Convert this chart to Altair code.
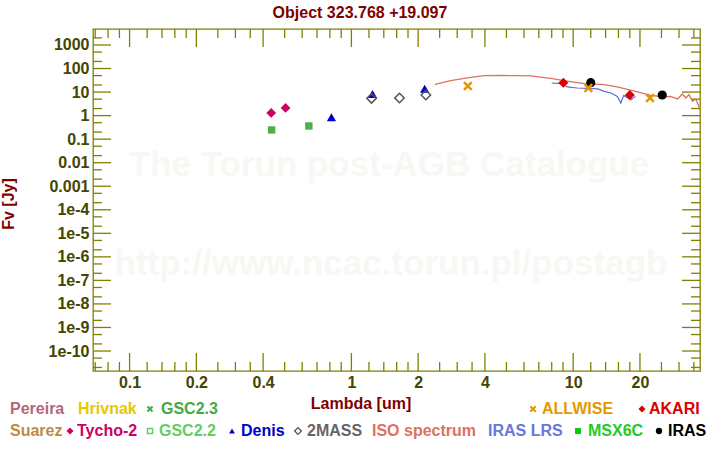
import altair as alt
import pandas as pd

# ---------------- data ----------------
tycho_wl = [0.435, 0.505]
tycho_fl = [1.30, 2.11]
gsc22_wl = [0.437, 0.643]
gsc22_fl = [0.246, 0.363]
denis_wl = [0.813, 1.245, 2.14]
denis_fl = [0.843, 8.3, 13.9]
mass2_wl = [1.233, 1.648, 2.167]
mass2_fl = [5.4, 5.6, 7.5]
allwise_wl = [3.35, 11.7, 22.2]
allwise_fl = [18.2, 14.9, 5.6]
akari_wl = [9.03, 18.0]
akari_fl = [25.1, 7.5]
iras_wl = [12.0, 25.2]
iras_fl = [25.1, 7.5]
iso_wl = [2.38, 2.80, 3.33, 3.96, 4.71, 5.60, 6.43, 7.92, 9.09, 11.2, 13.8, 15.8,
          19.5, 22.4, 25.7, 27.5, 29.5, 31.1, 32.2, 33.3, 34.5, 35.7, 36.6, 37.3]
iso_fl = [21.2, 30.5, 39.7, 49.7, 50.7, 49.7, 48.3, 38.2, 30.5, 22.7, 20.6, 16.5,
          10.1, 7.24, 6.19, 6.57, 5.09, 8.30, 5.62, 7.76, 4.03, 5.09, 2.92, 1.79]
lrs_wl = [8.00, 8.78, 9.42, 10.4, 11.6, 12.9, 13.8, 14.8, 15.8, 16.4, 16.9, 18.2, 19.1]
lrs_fl = [24.3, 22.7, 16.5, 14.9, 14.4, 13.6, 10.7, 9.16, 6.57, 3.44, 7.24, 4.75, 6.57]

x_major = [0.1, 0.2, 0.4, 1, 2, 4, 10, 20]
x_minor = [0.07, 0.08, 0.09, 0.12, 0.14, 0.16, 0.18, 0.25, 0.3, 0.35, 0.5, 0.6, 0.7,
           0.8, 0.9, 1.2, 1.4, 1.6, 1.8, 2.5, 3, 3.5, 5, 6, 7, 8, 9, 12, 14, 16, 18,
           25, 30, 35]
y_major = [1e-10, 1e-9, 1e-8, 1e-7, 1e-6, 1e-5, 1e-4, 1e-3, 1e-2, 0.1, 1, 10, 100, 1000]
y_minor = [2e-11, 5e-11, 2e-10, 5e-10, 2e-9, 5e-9, 2e-8, 5e-8, 2e-7, 5e-7, 2e-6, 5e-6,
           2e-5, 5e-5, 2e-4, 5e-4, 2e-3, 5e-3, 0.02, 0.05, 0.2, 0.5, 2, 5, 20, 50,
           200, 500, 2000]

title_text = "Object 323.768 +19.097"
x_title = "Lambda [um]"
y_title = "Fv [Jy]"
wm1 = "The Torun post-AGB Catalogue"
wm2 = "http://www.ncac.torun.pl/postagb"

# ---------------- layout ----------------
W, H = 607, 342
FONT = "Liberation Sans"
OLIVE = "#808000"
LABEL = "#454500"
DARKRED = "#800000"
WATERMARK = "#f8f7f3"

xscale = alt.Scale(type="log", domain=[0.0684, 37.3], nice=False)
yscale = alt.Scale(type="log", domain=[1.415e-11, 4780], nice=False)

xaxis = alt.Axis(values=x_major, format="~g", ticks=False, domain=False, grid=False,
                 title=None, labelFont=FONT, labelFontSize=16, labelFontWeight="bold",
                 labelColor=LABEL, labelPadding=3, labelOverlap=False, labelFlush=False)
yaxis = alt.Axis(values=y_major, ticks=False, domain=False, grid=False, title=None,
                 labelFont=FONT, labelFontSize=16, labelFontWeight="bold",
                 labelColor=LABEL, labelPadding=4, labelOverlap=False,
                 labelExpr="datum.value >= 0.0005 ? format(datum.value, '~g') : '1e-' + (-round(log(datum.value)/LN10))")


def X(field="wl"):
    return alt.X(f"{field}:Q", scale=xscale, axis=xaxis)


def Y(field="fl"):
    return alt.Y(f"{field}:Q", scale=yscale, axis=yaxis)


def text(txt, x, y, color, size=16, align="left", angle=0, baseline="middle"):
    return alt.Chart(pd.DataFrame({"t": [txt]})).mark_text(
        text=txt, align=align, baseline=baseline, font=FONT, fontSize=size,
        fontWeight="bold", color=color, angle=angle
    ).encode(x=alt.value(x), y=alt.value(y))


def pts(wl, fl, **kw):
    kw.setdefault("opacity", 1)
    return alt.Chart(pd.DataFrame({"wl": wl, "fl": fl})).mark_point(**kw).encode(x=X(), y=Y())


def legend_marker(x, y, **kw):
    kw.setdefault("opacity", 1)
    return alt.Chart(pd.DataFrame({"a": [0]})).mark_point(**kw).encode(
        x=alt.value(x), y=alt.value(y))


XSHAPE = "M-1,-1L1,1M-1,1L1,-1"

layers = []
# watermark
layers.append(text(wm1, 296, 147, WATERMARK, size=35, align="center", baseline="alphabetic"))
layers.append(text(wm2, 298, 246, WATERMARK, size=35, align="center", baseline="alphabetic"))

# ticks
def xticks(vals, length):
    d = pd.DataFrame({"v": vals})
    base = alt.Chart(d).mark_rule(color=OLIVE, strokeWidth=1.3)
    return [base.encode(x=X("v"), y=alt.value(H), y2=alt.value(H - length)),
            base.encode(x=X("v"), y=alt.value(0), y2=alt.value(length))]


def yticks(vals, length):
    d = pd.DataFrame({"v": vals})
    base = alt.Chart(d).mark_rule(color=OLIVE, strokeWidth=1.3)
    return [base.encode(y=Y("v"), x=alt.value(0), x2=alt.value(length)),
            base.encode(y=Y("v"), x=alt.value(W), x2=alt.value(W - length))]


layers += xticks(x_major, 18) + xticks(x_minor, 9) + yticks(y_major, 18) + yticks(y_minor, 9)

# spectra
layers.append(alt.Chart(pd.DataFrame({"wl": iso_wl, "fl": iso_fl})).mark_line(
    color="#e07060", strokeWidth=1.3, clip=True).encode(x=X(), y=Y()))
layers.append(alt.Chart(pd.DataFrame({"wl": lrs_wl, "fl": lrs_fl})).mark_line(
    color="#5c6cdc", strokeWidth=1.2, clip=True).encode(x=X(), y=Y()))

# photometry
layers.append(pts(tycho_wl, tycho_fl, shape="diamond", filled=True, color="#cc0066", size=95))
layers.append(pts(gsc22_wl, gsc22_fl, shape="square", filled=True, color="#4cb04c", size=55))
layers.append(pts(denis_wl, denis_fl, shape="triangle-up", filled=True, color="#0000cc", size=85))
layers.append(pts(mass2_wl, mass2_fl, shape="diamond", filled=False, color="#555555",
                  strokeWidth=1.5, size=90))
layers.append(pts(akari_wl, akari_fl, shape="diamond", filled=True, color="#dd0000", size=100))
layers.append(pts(iras_wl, iras_fl, shape="circle", filled=True, color="#000000", size=85))
layers.append(pts(allwise_wl, allwise_fl, shape=XSHAPE, filled=False, color="#e09a00",
                  strokeWidth=2.5, size=60))

# titles
layers.append(text(title_text, 267, -16, DARKRED, align="center"))
layers.append(text(x_title, 268, 375, DARKRED, align="center"))
layers.append(text(y_title, -84, 175, DARKRED, align="center", angle=270))

# legend row 1
R1, R2 = 380, 402
layers.append(text("Pereira", -83, R1, "#b3677e"))
layers.append(text("Hrivnak", -15, R1, "#e6c800"))
layers.append(legend_marker(57, R1, shape=XSHAPE, filled=False, color="#44aa44", strokeWidth=2, size=25))
layers.append(text("GSC2.3", 68, R1, "#44aa44"))
layers.append(legend_marker(440, R1, shape=XSHAPE, filled=False, color="#e09a00", strokeWidth=2, size=30))
layers.append(text("ALLWISE", 449, R1, "#e09a00"))
layers.append(legend_marker(549, R1, shape="diamond", filled=True, color="#dd0000", size=50))
layers.append(text("AKARI", 556, R1, "#dd0000"))
# legend row 2
layers.append(text("Suarez", -83, R2, "#c08a40"))
layers.append(legend_marker(-23, R2, shape="diamond", filled=True, color="#cc0066", size=50))
layers.append(text("Tycho-2", -16, R2, "#cc0066"))
layers.append(legend_marker(57, R2, shape="square", filled=False, color="#66cc66", strokeWidth=1.5, size=25))
layers.append(text("GSC2.2", 66, R2, "#66cc66"))
layers.append(legend_marker(139, R2, shape="triangle-up", filled=True, color="#0000cc", size=35))
layers.append(text("Denis", 148, R2, "#0000cc"))
layers.append(legend_marker(205, R2, shape="diamond", filled=False, color="#555555", strokeWidth=1.3, size=45))
layers.append(text("2MASS", 214, R2, "#666666"))
layers.append(text("ISO spectrum", 279, R2, "#e07060"))
layers.append(text("IRAS LRS", 395, R2, "#6677dd"))
layers.append(legend_marker(485, R2, shape="square", filled=True, color="#00cc00", size=35))
layers.append(text("MSX6C", 495, R2, "#22cc22"))
layers.append(legend_marker(566, R2, shape="circle", filled=True, color="#000000", size=40))
layers.append(text("IRAS", 575, R2, "#000000"))

chart = alt.layer(*layers).properties(
    width=W, height=H,
    padding={"left": 93, "top": 29, "right": 20, "bottom": 79},
    autosize="none",
    background="white",
).configure_view(stroke=OLIVE, strokeWidth=1.3, fill="white")

chart.save("out.html", embed_options={"renderer": "svg", "actions": False})
